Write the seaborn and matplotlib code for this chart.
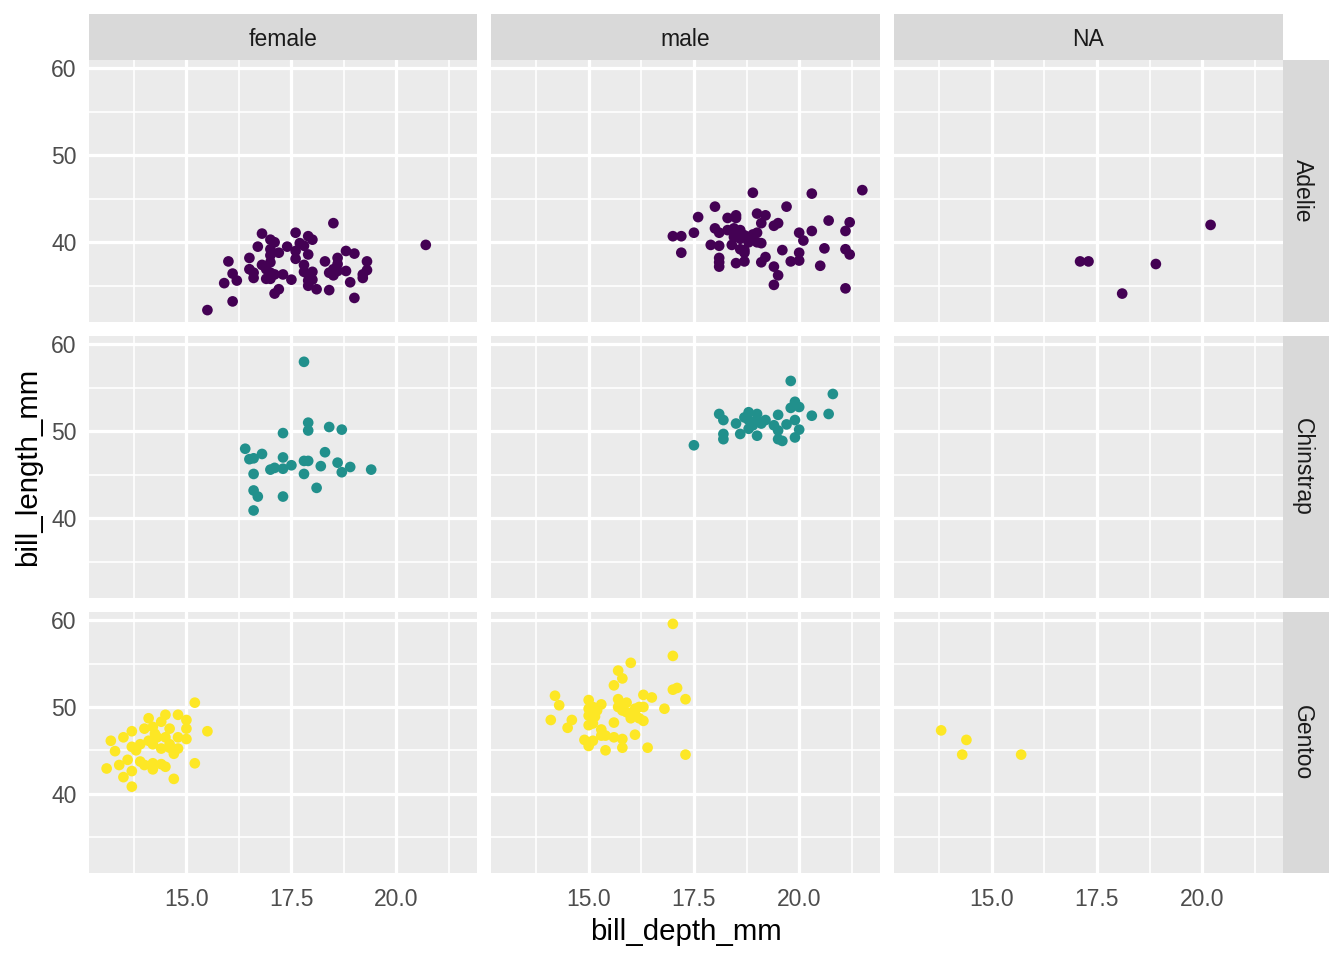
import pandas as pd
import matplotlib
matplotlib.use("Agg")
import matplotlib.pyplot as plt
from matplotlib.patches import Rectangle
import seaborn as sns

species_order = ["Adelie", "Chinstrap", "Gentoo"]
sex_order = ["female", "male", "NA"]
species_colors = {"Adelie": "#440154", "Chinstrap": "#21908C", "Gentoo": "#FDE725"}

x_major = [15.0, 17.5, 20.0]
x_minor = [13.75, 16.25, 18.75, 21.25]
x_labels = ["15.0", "17.5", "20.0"]
y_major = [40, 50, 60]
y_minor = [35, 45, 55]
y_labels = ["40", "50", "60"]

# values, one pair of lists per facet
adelie_female_depth = [15.5, 16.1, 15.9, 16.1, 16.2, 16.0, 16.5, 16.5, 16.6, 16.6, 16.7, 16.8,
                       17.0, 17.1, 17.0, 17.2, 17.0, 17.0, 16.8, 16.9, 17.0, 17.1, 17.3, 16.9,
                       17.0, 17.2, 17.1, 17.6, 17.4, 17.6, 17.7, 17.8, 17.9, 18.0, 17.6, 17.9,
                       17.8, 17.8, 17.9, 18.0, 17.9, 18.0, 17.9, 18.1, 17.5, 18.5, 18.3, 18.6,
                       18.6, 18.5, 18.4, 18.5, 18.6, 18.8, 18.8, 19.0, 18.9, 18.4, 19.0, 19.3,
                       19.3, 19.2, 19.2, 20.7]
adelie_female_length = [32.2, 33.2, 35.3, 36.4, 35.6, 37.8, 38.2, 36.9, 36.5, 35.9, 39.5, 41.0,
                        40.3, 40.0, 39.2, 38.8, 38.5, 37.7, 37.4, 36.9, 36.5, 36.3, 36.3, 35.8,
                        35.8, 34.6, 34.1, 41.1, 39.5, 39.0, 39.9, 39.6, 40.7, 40.3, 38.1, 38.6,
                        37.4, 36.6, 36.3, 36.6, 35.6, 35.7, 35.0, 34.6, 35.7, 42.2, 37.8, 38.2,
                        37.5, 36.9, 36.5, 36.2, 36.7, 36.7, 39.0, 38.7, 35.4, 34.5, 33.6, 37.8,
                        36.8, 36.3, 35.9, 39.7]

adelie_male_depth = [18.9, 20.3, 21.5, 18.0, 17.6, 19.7, 18.3, 18.5, 18.5, 19.0, 19.2, 19.1,
                     19.4, 19.5, 20.7, 21.2, 21.1, 17.0, 17.2, 17.5, 17.2, 18.0, 18.1, 18.3,
                     18.45, 18.5, 18.6, 18.45, 18.6, 18.7, 18.8, 18.9, 19.0, 18.8, 19.0, 19.1,
                     18.4, 18.6, 18.7, 17.9, 18.1, 18.7, 18.1, 18.1, 18.1, 18.5, 18.7, 19.1,
                     19.2, 19.6, 19.4, 19.5, 19.4, 19.8, 20.0, 20.0, 20.0, 20.1, 20.3, 20.6,
                     20.5, 21.1, 21.2, 21.1]
adelie_male_length = [45.7, 45.6, 46.0, 44.1, 42.9, 44.1, 42.8, 43.1, 42.8, 43.3, 43.1, 42.2,
                      41.9, 42.2, 42.5, 42.3, 41.3, 40.7, 40.7, 41.1, 38.8, 41.6, 41.1, 41.4,
                      41.6, 41.1, 41.4, 40.6, 40.4, 40.8, 40.6, 40.9, 41.1, 40.0, 40.0, 39.9,
                      39.7, 39.2, 39.1, 39.7, 39.6, 38.8, 38.2, 37.2, 37.7, 37.6, 37.8, 37.7,
                      38.3, 39.1, 37.2, 36.2, 35.1, 37.8, 38.8, 37.9, 41.1, 40.2, 41.3, 39.3,
                      37.3, 39.2, 38.6, 34.7]

adelie_na_depth = [18.1, 20.2, 17.1, 17.3, 18.9]
adelie_na_length = [34.1, 42.0, 37.8, 37.8, 37.5]

chinstrap_female_depth = [17.8, 17.9, 17.9, 18.4, 18.7, 17.3, 16.4, 16.8, 16.5, 16.6, 17.3, 18.3,
                          17.8, 17.9, 18.6, 18.2, 18.9, 18.7, 19.4, 17.0, 17.1, 17.3, 17.5, 17.8,
                          16.6, 16.6, 16.7, 17.3, 18.1, 16.6]
chinstrap_female_length = [58.0, 51.0, 50.1, 50.5, 50.2, 49.8, 48.0, 47.4, 46.8, 46.9, 47.0, 47.6,
                           46.6, 46.6, 46.4, 46.0, 45.9, 45.3, 45.6, 45.6, 45.8, 45.7, 46.1, 45.1,
                           45.1, 43.2, 42.5, 42.5, 43.5, 40.9]

chinstrap_male_depth = [17.5, 19.8, 20.8, 19.9, 19.8, 20.0, 20.3, 20.7, 19.5, 19.9, 20.0, 19.9,
                        18.1, 18.2, 18.5, 18.2, 18.2, 18.6, 18.8, 18.7, 18.8, 19.0, 19.0, 18.9,
                        19.1, 19.2, 18.8, 19.0, 19.4, 19.5, 19.7, 19.5, 19.6]
chinstrap_male_length = [48.4, 55.8, 54.3, 53.4, 52.7, 52.8, 51.8, 52.0, 51.9, 51.3, 50.2, 49.3,
                         52.0, 51.3, 50.9, 49.7, 49.1, 49.7, 52.2, 51.6, 51.3, 52.0, 51.3, 50.7,
                         50.9, 51.3, 50.3, 49.5, 50.7, 50.1, 50.8, 49.1, 48.9]

gentoo_female_depth = [15.2, 15.5, 15.2, 13.1, 13.2, 13.3, 13.5, 13.7, 13.4, 13.6, 13.5, 13.7,
                       13.7, 13.7, 13.8, 13.9, 14.1, 14.0, 14.2, 14.4, 14.5, 14.25, 14.1, 14.2,
                       14.3, 14.6, 14.5, 14.6, 14.4, 14.6, 14.7, 14.8, 14.8, 14.8, 15.0, 15.0,
                       15.0, 13.9, 14.0, 14.2, 14.2, 14.4, 14.5, 14.7]
gentoo_female_length = [50.5, 47.2, 43.5, 42.9, 46.1, 44.9, 46.5, 47.2, 43.3, 43.9, 41.9, 42.6,
                        40.8, 45.4, 45.0, 45.7, 48.7, 47.5, 47.7, 48.3, 49.1, 46.9, 46.1, 45.7,
                        46.5, 47.5, 46.5, 45.7, 45.2, 45.3, 44.6, 45.2, 46.5, 49.1, 48.5, 47.5,
                        46.3, 43.7, 43.3, 43.5, 42.8, 43.4, 43.1, 41.7]

gentoo_male_depth = [17.0, 17.0, 16.0, 15.7, 15.8, 15.6, 17.0, 17.1, 17.3, 16.8, 17.3, 14.2,
                     14.3, 14.1, 14.6, 14.5, 15.0, 15.0, 15.0, 15.1, 15.2, 15.3, 15.15, 15.0,
                     15.1, 14.9, 15.0, 15.1, 15.3, 15.3, 15.4, 15.4, 15.6, 15.8, 15.8, 15.6,
                     15.7, 15.7, 15.8, 15.9, 15.75, 15.9, 16.0, 16.1, 16.1, 16.2, 16.3, 16.3,
                     16.5, 16.2, 16.3, 16.1, 16.4]
gentoo_male_length = [59.6, 55.9, 55.1, 54.2, 53.3, 52.5, 52.0, 52.2, 50.9, 49.8, 44.5, 51.3,
                      50.2, 48.5, 48.5, 47.6, 50.8, 49.8, 49.0, 50.0, 49.6, 50.3, 48.9, 47.9,
                      48.1, 46.2, 45.5, 46.1, 47.4, 46.7, 46.7, 45.0, 46.5, 46.3, 45.3, 48.2,
                      50.9, 50.0, 49.6, 50.5, 50.3, 49.4, 48.7, 49.8, 49.2, 50.0, 50.0, 51.4,
                      51.1, 48.7, 48.4, 46.8, 45.3]

gentoo_na_depth = [13.8, 14.3, 14.4, 15.7]
gentoo_na_length = [47.3, 44.5, 46.2, 44.5]

groups = [
    ("Adelie", "female", adelie_female_depth, adelie_female_length),
    ("Adelie", "male", adelie_male_depth, adelie_male_length),
    ("Adelie", "NA", adelie_na_depth, adelie_na_length),
    ("Chinstrap", "female", chinstrap_female_depth, chinstrap_female_length),
    ("Chinstrap", "male", chinstrap_male_depth, chinstrap_male_length),
    ("Gentoo", "female", gentoo_female_depth, gentoo_female_length),
    ("Gentoo", "male", gentoo_male_depth, gentoo_male_length),
    ("Gentoo", "NA", gentoo_na_depth, gentoo_na_length),
]
penguins = pd.concat(
    [pd.DataFrame({"species": sp, "sex": sx, "bill_depth_mm": d, "bill_length_mm": l})
     for sp, sx, d, l in groups],
    ignore_index=True,
)

sns.set_theme(style="darkgrid", rc={"axes.facecolor": "#EBEBEB", "grid.color": "white"})
plt.rcParams["font.family"] = ["Liberation Sans", "DejaVu Sans"]

g = sns.relplot(
    data=penguins, x="bill_depth_mm", y="bill_length_mm",
    row="species", col="sex", row_order=species_order, col_order=sex_order,
    hue="species", palette=species_colors, legend=False,
    s=64, linewidth=0, edgecolor="none",
    height=3, aspect=1.4,
    facet_kws=dict(sharex=True, sharey=True, despine=False),
)
fig = g.figure
fig.set_size_inches(14, 10)
g.set_titles("")
g.set_axis_labels("", "")

# ggplot-like 5% expansion of the data range
dmin, dmax = penguins["bill_depth_mm"].min(), penguins["bill_depth_mm"].max()
lmin, lmax = penguins["bill_length_mm"].min(), penguins["bill_length_mm"].max()
xpad = (dmax - dmin) * 0.05
ypad = (lmax - lmin) * 0.05

W, H = 1344, 960
col_left = [89, 491, 894]
col_right = [477, 880, 1283]
row_top = [60, 336, 612]
row_bottom = [322, 598, 873]
strip = 46
tick_size = 17.2
strip_size = 17.2
title_size = 22

for i, sp in enumerate(species_order):
    for j, sx in enumerate(sex_order):
        ax = g.axes[i, j]
        l, r, t, b = col_left[j], col_right[j], row_top[i], row_bottom[i]
        ax.set_position([l / W, 1 - b / H, (r - l) / W, (b - t) / H])
        ax.set_xlim(dmin - xpad, dmax + xpad)
        ax.set_ylim(lmin - ypad, lmax + ypad)
        ax.set_xticks(x_major)
        ax.set_xticks(x_minor, minor=True)
        ax.set_yticks(y_major)
        ax.set_yticks(y_minor, minor=True)
        ax.set_xticklabels(x_labels)
        ax.set_yticklabels(y_labels)
        ax.set_axisbelow(True)
        ax.grid(which="major", color="white", linewidth=2.4)
        ax.grid(which="minor", color="white", linewidth=1.2)
        for s in ax.spines.values():
            s.set_visible(False)
        ax.tick_params(which="major", length=5.2, width=1.6, color="#333333",
                       labelcolor="#4D4D4D", labelsize=tick_size, pad=4)
        ax.tick_params(axis="x", which="major", pad=6)
        ax.tick_params(which="minor", length=0)
        if j > 0:
            ax.tick_params(axis="y", length=0, labelleft=False)
        if i < 2:
            ax.tick_params(axis="x", length=0, labelbottom=False)

        pw, ph = r - l, b - t
        if i == 0:
            ax.add_patch(Rectangle((0, 1), 1, strip / ph, transform=ax.transAxes,
                                   facecolor="#D9D9D9", edgecolor="none", clip_on=False))
            ax.text(0.5, 1 + (strip / 2 - 3) / ph, sx, transform=ax.transAxes,
                    ha="center", va="center", fontsize=strip_size, color="#1A1A1A")
        if j == 2:
            ax.add_patch(Rectangle((1, 0), strip / pw, 1, transform=ax.transAxes,
                                   facecolor="#D9D9D9", edgecolor="none", clip_on=False))
            ax.text(1 + (strip / 2 - 4) / pw, 0.5, sp, transform=ax.transAxes, rotation=-90,
                    ha="center", va="center", fontsize=strip_size, color="#1A1A1A")

fig.text(686 / W, 1 - 932 / H, "bill_depth_mm", ha="center", va="center",
         fontsize=title_size, color="black")
fig.text(28 / W, 1 - 467 / H, "bill_length_mm", ha="center", va="center",
         rotation=90, fontsize=title_size, color="black")

fig.savefig("out.png", dpi=96, facecolor="white")
